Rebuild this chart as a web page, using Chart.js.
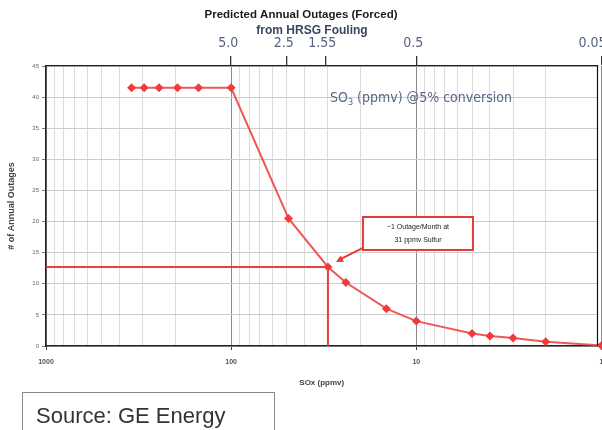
<!DOCTYPE html>
<html><head><meta charset="utf-8">
<script src="https://cdn.jsdelivr.net/npm/chart.js@4/dist/chart.umd.min.js"></script>
<style>
html,body{margin:0;padding:0;background:#fff;}
#wrap{position:relative;width:602px;height:430px;overflow:hidden;background:#fff;}
canvas{position:absolute;left:0;top:0;}
#src{position:absolute;left:22px;top:392px;width:253px;height:46px;border:1px solid #8a8a8a;font-family:'Liberation Sans',Arial,sans-serif;font-size:22px;color:#333;box-sizing:border-box;padding:10px 0 0 13px;}
</style></head>
<body><div id="wrap"><canvas id="c" width="602" height="430"></canvas><div id="src">Source: GE Energy</div></div>
<script>
// SOx (ppmv) vs predicted annual forced outages
const sox = [345, 295, 245, 195, 150, 100, 49, 30, 24, 14.5, 10, 5, 4, 3, 2, 1];
const outages = [41.5, 41.5, 41.5, 41.5, 41.5, 41.5, 20.5, 12.7, 10.2, 6, 4, 2, 1.6, 1.3, 0.7, 0.1];
// marker: ~1 outage/month at ~31 ppmv
const markerSox = 30;
const markerOutages = 12.7;
// tick labels
const xTickLabels = [1000, 100, 10, 1];
const so3TickValues = [100, 50, 31, 10, 1];
const so3TickLabels = ['5.0', '2.5', '1.55', '0.5', '0.05   '];
const titleLines = ['Predicted Annual Outages (Forced)', 'from HRSG Fouling'];

const isPow10 = v => Math.abs(Math.log10(v) - Math.round(Math.log10(v))) < 1e-9;

const overlay = {
  id: 'overlay',
  afterDraw(chart) {
    const ctx = chart.ctx;
    const a = chart.chartArea;
    const xs = chart.scales.x, ys = chart.scales.y;
    ctx.save();
    // right border
    ctx.strokeStyle = '#111'; ctx.lineWidth = 1.2;
    ctx.beginPath(); ctx.moveTo(a.right, a.top); ctx.lineTo(a.right, a.bottom); ctx.stroke();
    // titles
    ctx.textAlign = 'center'; ctx.textBaseline = 'middle';
    ctx.fillStyle = '#1c1c1c';
    ctx.font = 'bold 11.5px "Liberation Sans", Arial, sans-serif';
    ctx.fillText(titleLines[0], 301, 15);
    ctx.fillStyle = '#3a4560';
    ctx.font = 'bold 12px "Liberation Sans", Arial, sans-serif';
    ctx.fillText(titleLines[1], 312, 31);
    // SO3 label
    ctx.textAlign = 'left'; ctx.textBaseline = 'alphabetic';
    ctx.fillStyle = '#5a6788';
    ctx.font = '14px "DejaVu Sans Condensed", "Liberation Sans", Arial, sans-serif';
    let tx = 330, ty = 102;
    ctx.fillText('SO', tx, ty); tx += ctx.measureText('SO').width;
    ctx.font = '9px "DejaVu Sans Condensed", Arial, sans-serif';
    ctx.fillText('3', tx, ty + 3); tx += ctx.measureText('3').width;
    ctx.font = '14px "DejaVu Sans Condensed", "Liberation Sans", Arial, sans-serif';
    ctx.fillText(' (ppmv) @5% conversion', tx, ty);
    // annotation
    const px = xs.getPixelForValue(markerSox), py = ys.getPixelForValue(markerOutages);
    const bx = px + 35, by = py - 50, bw = 110, bh = 33;
    ctx.strokeStyle = '#e23a3a'; ctx.lineWidth = 2;
    const sx = bx + 2, sy = by + bh - 3, ex = px + 8, ey = py - 5;
    ctx.beginPath(); ctx.moveTo(sx, sy); ctx.lineTo(ex + 3, ey - 2); ctx.stroke();
    ctx.fillStyle = '#e23a3a';
    ctx.beginPath();
    const ang = Math.atan2(ey - sy, ex - sx);
    ctx.moveTo(ex, ey);
    ctx.lineTo(ex - 8 * Math.cos(ang - 0.45), ey - 8 * Math.sin(ang - 0.45));
    ctx.lineTo(ex - 8 * Math.cos(ang + 0.45), ey - 8 * Math.sin(ang + 0.45));
    ctx.closePath(); ctx.fill();
    ctx.fillStyle = '#fff';
    ctx.fillRect(bx, by, bw, bh);
    ctx.strokeRect(bx, by, bw, bh);
    ctx.fillStyle = '#222'; ctx.textAlign = 'center'; ctx.textBaseline = 'middle';
    ctx.font = '7px "Liberation Sans", Arial, sans-serif';
    ctx.fillText('~1 Outage/Month at', bx + bw / 2, by + 10);
    ctx.fillText('31 ppmv Sulfur', bx + bw / 2, by + 23);
    ctx.restore();
  }
};

const minorTicks = [];
for (let d = 1; d < 1000; d *= 10) for (let m = 1; m < 10; m++) minorTicks.push(m * d);
minorTicks.push(1000);

new Chart(document.getElementById('c'), {
  type: 'line',
  data: {
    datasets: [
      {
        data: sox.map((x, i) => ({ x, y: outages[i] })),
        borderColor: 'rgba(238,70,70,0.9)', backgroundColor: 'rgba(238,60,60,1)',
        borderWidth: 2, pointStyle: 'rectRot', pointRadius: 4.5, pointBorderWidth: 0,
        xAxisID: 'x', yAxisID: 'y', tension: 0, clip: 6
      },
      {
        data: [{ x: 1000, y: markerOutages }, { x: markerSox, y: markerOutages }, { x: markerSox, y: 0 }],
        borderColor: 'rgba(232,55,55,0.95)', borderWidth: 2, pointRadius: 0,
        xAxisID: 'x', yAxisID: 'y', tension: 0
      }
    ]
  },
  options: {
    responsive: false, animation: false, devicePixelRatio: 1,
    layout: { padding: { left: 0, right: 4, top: 0, bottom: 0 } },
    plugins: { legend: { display: false }, tooltip: { enabled: false }, title: { display: false } },
    scales: {
      x: {
        type: 'logarithmic', position: 'bottom', min: 1.05, max: 1000, reverse: true,
        afterBuildTicks: s => { s.ticks = minorTicks.map(v => ({ value: v, major: isPow10(v) })); },
        afterFit: s => { s.height = 84; s.paddingLeft = 0; s.paddingRight = 0; },
        ticks: {
          autoSkip: false, maxRotation: 0, padding: 8,
          font: { size: 7, weight: 'bold', family: '"Liberation Sans", Arial, sans-serif' }, color: '#555',
          callback: v => (xTickLabels.includes(v) ? String(v) : '')
        },
        grid: {
          color: c => (c.tick && isPow10(c.tick.value) ? '#8a8a8a' : '#dcdcdc'),
          tickColor: c => (c.tick && isPow10(c.tick.value) ? '#444' : 'rgba(0,0,0,0)'),
          tickLength: 4, lineWidth: 1
        },
        border: { color: '#222', width: 1.5 },
        title: {
          display: true, text: 'SOx (ppmv)', color: '#444',
          font: { size: 8, weight: 'bold', family: '"Liberation Sans", Arial, sans-serif' },
          padding: { top: 0, bottom: 42 }
        }
      },
      x2: {
        type: 'logarithmic', position: 'top', min: 1.05, max: 1000, reverse: true,
        afterBuildTicks: s => { s.ticks = so3TickValues.map(v => ({ value: v })); },
        afterFit: s => { s.height = 66; s.paddingLeft = 0; s.paddingRight = 0; },
        ticks: {
          autoSkip: false, maxRotation: 0, padding: 4, labelOffset: -3,
          font: { size: 14, family: '"DejaVu Sans Condensed", "Liberation Sans", Arial, sans-serif' },
          color: '#56627e',
          callback: (v, i) => so3TickLabels[so3TickValues.indexOf(v)]
        },
        grid: { drawOnChartArea: false, tickLength: 10, tickColor: '#333', lineWidth: 1.3 },
        border: { color: '#222', width: 1.3 }
      },
      y: {
        type: 'linear', position: 'left', min: 0, max: 45,
        afterFit: s => { s.width = 46; s.paddingTop = 0; s.paddingBottom = 0; },
        ticks: {
          stepSize: 5, padding: 3,
          font: { size: 6, family: '"Liberation Sans", Arial, sans-serif' }, color: '#666'
        },
        grid: { color: '#cdcdcd', tickColor: '#777', tickLength: 4 },
        border: { color: '#222', width: 1.5 },
        title: {
          display: true, text: '# of Annual Outages', color: '#444',
          font: { size: 9, weight: 'bold', family: '"Liberation Sans", Arial, sans-serif' },
          padding: { top: 6, bottom: 0 }
        }
      }
    }
  },
  plugins: [overlay]
});
</script>
</body></html>
